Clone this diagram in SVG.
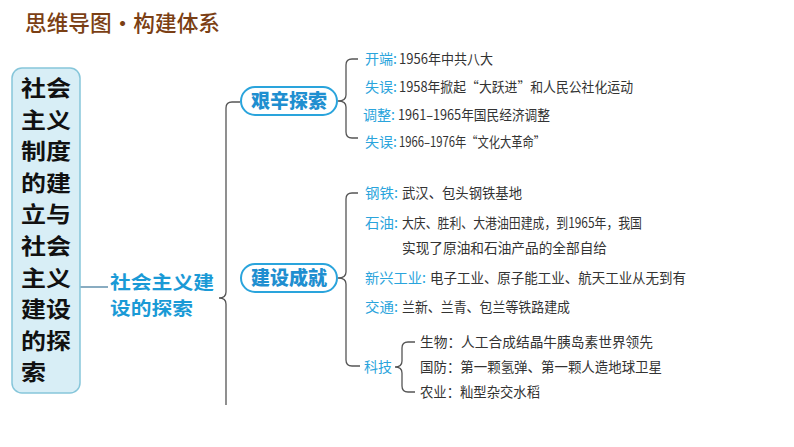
<svg xmlns="http://www.w3.org/2000/svg" width="794" height="447" viewBox="0 0 794 447">
<style>
.cjk{font-family:"Noto Sans CJK SC","Noto Sans",sans-serif;}
.title{font-size:22px;fill:#7b3f14;font-weight:500;}
.root{font-size:21.5px;font-weight:700;fill:#111;}
.main{font-size:18.2px;font-weight:700;fill:#1a9ad6;}
.pill{fill:#fff;stroke:#2aa4dc;stroke-width:2;}
.pilltxt{font-size:19px;font-weight:900;fill:#1f8fd0;}
.item{font-size:14px;fill:#333;}
.lab{fill:#2aa4dc;}
.br{fill:none;stroke:#555;stroke-width:1.3;}
</style>
<rect width="794" height="447" fill="#fff"/>
<text class="cjk title" x="25" y="31" textLength="195" lengthAdjust="spacingAndGlyphs">思维导图·构建体系</text>

<g id="connectors">
  <line x1="80" y1="287" x2="108" y2="287" stroke="#4a7fa0" stroke-width="1.3"/>
  <path class="br" d="M240,102 H232 Q226,102 226,108 V292 Q226,298 219,298 Q226,298 226,304 V405"/>
  <path class="br" d="M358,59 H352 Q346,59 346,65 V95 Q346,101 338,101 Q346,101 346,107 V132 Q346,138 352,138 H358"/>
  <path class="br" d="M358,193 H352 Q346,193 346,199 V272 Q346,278 338,278 Q346,278 346,284 V360 Q346,366 352,366 H360"/>
  <path class="br" d="M415,342 H408 Q402,342 402,348 V361 Q402,367 395,367 Q402,367 402,373 V386 Q402,392 408,392 H415"/>
</g>

<g id="root">
  <rect x="12" y="68" width="68" height="325" rx="10" fill="#d8eef6" stroke="#86c6da" stroke-width="1.5"/>
  <g class="cjk root">
    <text x="21" y="96" textLength="50" lengthAdjust="spacingAndGlyphs">社会</text>
    <text x="21" y="127.6" textLength="50" lengthAdjust="spacingAndGlyphs">主义</text>
    <text x="21" y="159.2" textLength="50" lengthAdjust="spacingAndGlyphs">制度</text>
    <text x="21" y="190.8" textLength="50" lengthAdjust="spacingAndGlyphs">的建</text>
    <text x="21" y="222.4" textLength="50" lengthAdjust="spacingAndGlyphs">立与</text>
    <text x="21" y="254" textLength="50" lengthAdjust="spacingAndGlyphs">社会</text>
    <text x="21" y="285.6" textLength="50" lengthAdjust="spacingAndGlyphs">主义</text>
    <text x="21" y="317.2" textLength="50" lengthAdjust="spacingAndGlyphs">建设</text>
    <text x="21" y="348.8" textLength="50" lengthAdjust="spacingAndGlyphs">的探</text>
    <text x="21" y="380.4" textLength="25" lengthAdjust="spacingAndGlyphs">索</text>
  </g>
</g>

<g id="main">
  <text class="cjk main" x="110" y="288.5" textLength="104" lengthAdjust="spacingAndGlyphs">社会主义建</text>
  <text class="cjk main" x="110" y="315" textLength="83" lengthAdjust="spacingAndGlyphs">设的探索</text>
</g>

<g id="node-jianxin">
  <rect class="pill" x="241" y="87" width="96" height="28" rx="14"/>
  <text class="cjk pilltxt" x="289" y="108" text-anchor="middle">艰辛探索</text>
</g>
<g id="jianxin-items" class="cjk item">
  <text class="lab" x="365" y="64" textLength="32" lengthAdjust="spacingAndGlyphs">开端:</text>
  <text x="399" y="64" textLength="94" lengthAdjust="spacingAndGlyphs">1956年中共八大</text>
  <text class="lab" x="365" y="92" textLength="32" lengthAdjust="spacingAndGlyphs">失误:</text>
  <text x="399" y="92" textLength="234" lengthAdjust="spacingAndGlyphs">1958年掀起“大跃进”和人民公社化运动</text>
  <text class="lab" x="363" y="120" textLength="32" lengthAdjust="spacingAndGlyphs">调整:</text>
  <text x="398" y="120" textLength="152" lengthAdjust="spacingAndGlyphs">1961–1965年国民经济调整</text>
  <text class="lab" x="365" y="147" textLength="32" lengthAdjust="spacingAndGlyphs">失误:</text>
  <text x="399" y="147" textLength="146" lengthAdjust="spacingAndGlyphs">1966–1976年“文化大革命”</text>
</g>

<g id="node-jianshe">
  <rect class="pill" x="241" y="264" width="96" height="28" rx="14"/>
  <text class="cjk pilltxt" x="289" y="285" text-anchor="middle">建设成就</text>
</g>
<g id="jianshe-items" class="cjk item">
  <text class="lab" x="365" y="198" textLength="33" lengthAdjust="spacingAndGlyphs">钢铁:</text>
  <text x="402" y="198" textLength="120" lengthAdjust="spacingAndGlyphs">武汉、包头钢铁基地</text>
  <text class="lab" x="365" y="228" textLength="33" lengthAdjust="spacingAndGlyphs">石油:</text>
  <text x="402" y="228" textLength="240" lengthAdjust="spacingAndGlyphs">大庆、胜利、大港油田建成，到1965年，我国</text>
  <text x="402" y="253" textLength="205" lengthAdjust="spacingAndGlyphs">实现了原油和石油产品的全部自给</text>
  <text class="lab" x="365" y="283" textLength="61" lengthAdjust="spacingAndGlyphs">新兴工业:</text>
  <text x="430" y="283" textLength="256" lengthAdjust="spacingAndGlyphs">电子工业、原子能工业、航天工业从无到有</text>
  <text class="lab" x="365" y="312" textLength="33" lengthAdjust="spacingAndGlyphs">交通:</text>
  <text x="402" y="312" textLength="168" lengthAdjust="spacingAndGlyphs">兰新、兰青、包兰等铁路建成</text>
</g>

<g id="node-keji" class="cjk item">
  <text x="364" y="372" class="lab" textLength="28" lengthAdjust="spacingAndGlyphs">科技</text>
</g>
<g id="keji-items" class="cjk item">
  <text x="420" y="347" textLength="233" lengthAdjust="spacingAndGlyphs">生物：人工合成结晶牛胰岛素世界领先</text>
  <text x="420" y="372" textLength="242" lengthAdjust="spacingAndGlyphs">国防：第一颗氢弹、第一颗人造地球卫星</text>
  <text x="420" y="397" textLength="120" lengthAdjust="spacingAndGlyphs">农业：籼型杂交水稻</text>
</g>
</svg>
